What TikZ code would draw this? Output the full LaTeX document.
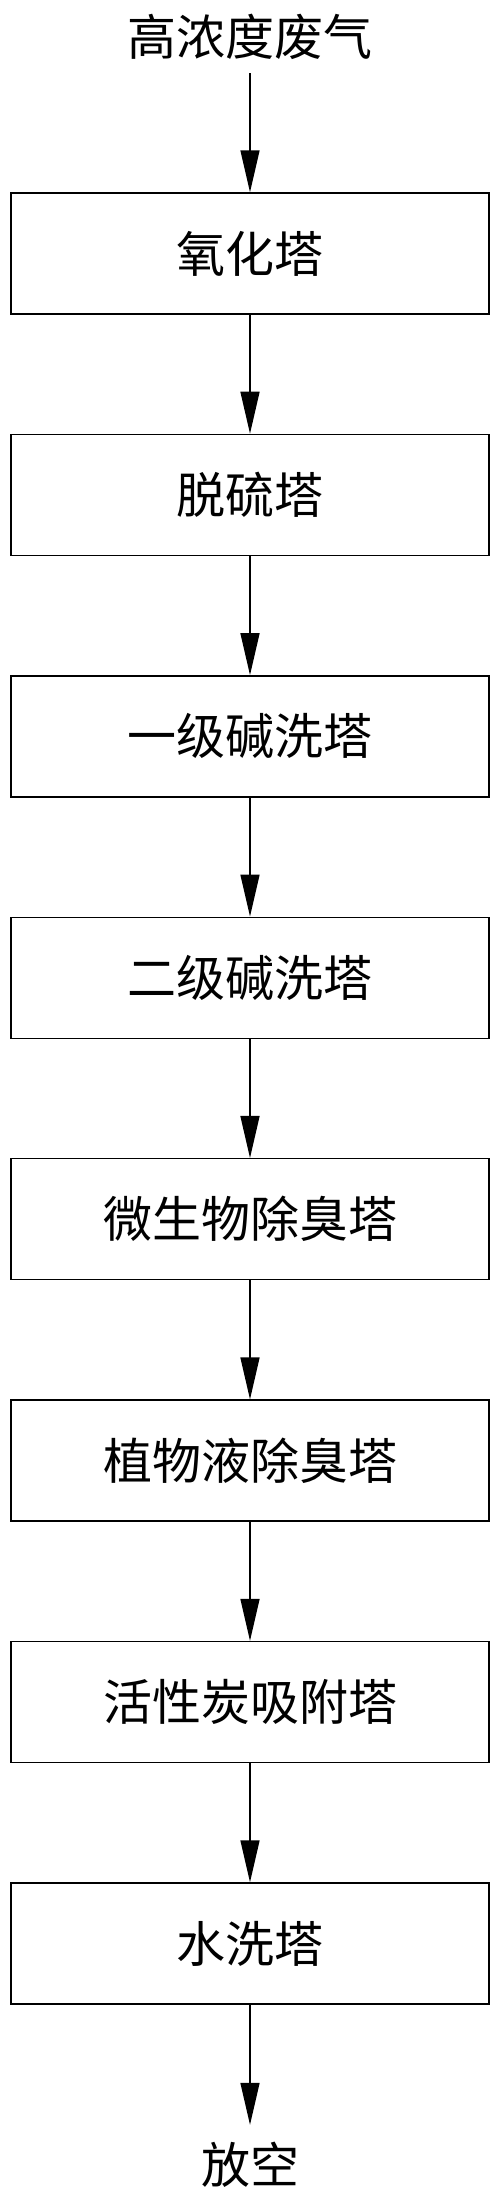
\documentclass[tikz,border=0pt]{standalone}
\usepackage{fontspec}
\newfontfamily\cjk{Noto Sans CJK SC}
\usetikzlibrary{arrows.meta}
\begin{document}
\begin{tikzpicture}[x=1pt,y=-1pt,
  every node/.style={font=\cjk\fontsize{49}{53}\selectfont, inner sep=0pt},
  stagebox/.style={draw, line width=1.5pt, minimum width=478pt, minimum height=121pt},
  flow/.style={line width=1.5pt, -{Triangle[length=42pt,width=19pt]}}]
\useasboundingbox (0,0) rectangle (500,2198);
\node[minimum height=72pt] (src) at (250,37) {高浓度废气};
\foreach \n/\t [count=\i from 0] in {b1/氧化塔, b2/脱硫塔, b3/一级碱洗塔, b4/二级碱洗塔, b5/微生物除臭塔, b6/植物液除臭塔, b7/活性炭吸附塔, b8/水洗塔}{
  \node[stagebox] (\n) at (250,{253.5+241.43*\i}) {\t};
}
\node[minimum height=80pt] (out) at (250,2165) {放空};
\draw[flow] (src) -- (b1);
\draw[flow] (b1) -- (b2);
\draw[flow] (b2) -- (b3);
\draw[flow] (b3) -- (b4);
\draw[flow] (b4) -- (b5);
\draw[flow] (b5) -- (b6);
\draw[flow] (b6) -- (b7);
\draw[flow] (b7) -- (b8);
\draw[flow] (b8) -- (out);
\end{tikzpicture}
\end{document}
